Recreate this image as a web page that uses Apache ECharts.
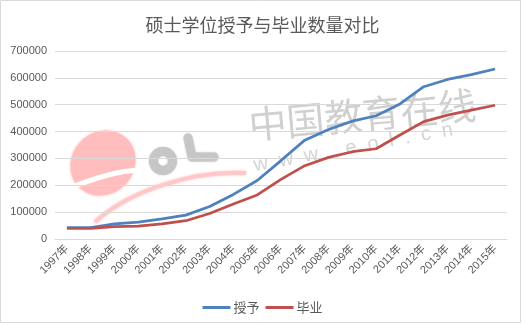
<!DOCTYPE html>
<html>
<head>
<meta charset="utf-8">
<script src="https://cdn.jsdelivr.net/npm/echarts@6/dist/echarts.min.js"></script>
<style>
  html, body { margin: 0; padding: 0; background: #fff; }
  #chart { width: 525px; height: 325px; }
</style>
</head>
<body>
<div id="chart"></div>
<script>
// 年份
const years = ['1997年','1998年','1999年','2000年','2001年','2002年','2003年','2004年','2005年','2006年',
               '2007年','2008年','2009年','2010年','2011年','2012年','2013年','2014年','2015年'];
// 硕士学位授予人数
const awarded = [42000, 42000, 56000, 63000, 75000, 89000, 121000, 166000, 218000, 292000,
                 368000, 408000, 439000, 459000, 503000, 567000, 594000, 612000, 633000];
// 硕士毕业人数
const graduated = [40000, 40000, 46000, 48000, 56000, 68000, 95000, 130000, 164000, 222000,
                   273000, 304000, 325000, 336000, 387000, 437000, 461000, 480000, 498000];
const seriesNames = ['授予', '毕业'];

const labelFont = '"Liberation Sans", "Noto Sans CJK SC", sans-serif';
const cjkFont = '"Noto Sans CJK SC", sans-serif';

const chart = echarts.init(document.getElementById('chart'), null, { renderer: 'canvas' });

chart.setOption({
  backgroundColor: '#ffffff',
  animation: false,
  title: {
    text: '硕士学位授予与毕业数量对比',
    left: 'center',
    top: 11,
    textStyle: { fontFamily: cjkFont, fontSize: 18, fontWeight: 'normal', color: '#595959' }
  },
  grid: { left: 55, right: 18, top: 51, bottom: 86, containLabel: false },
  legend: {
    data: seriesNames,
    left: 'center',
    top: 296,
    icon: 'rect',
    itemWidth: 28,
    itemHeight: 3,
    itemGap: 6,
    textStyle: { fontFamily: cjkFont, fontSize: 13, color: '#595959', padding: [0, 0, 0, -2] }
  },
  xAxis: {
    type: 'category',
    data: years,
    boundaryGap: true,
    axisLine: { lineStyle: { color: '#d9d9d9', width: 1 } },
    axisTick: { show: false },
    axisLabel: {
      rotate: 45,
      interval: 0,
      margin: 8,
      fontFamily: labelFont,
      fontSize: 11,
      color: '#595959'
    }
  },
  yAxis: {
    type: 'value',
    min: 0,
    max: 700000,
    interval: 100000,
    axisLine: { show: false },
    axisTick: { show: false },
    splitLine: { lineStyle: { color: '#d9d9d9', width: 1 } },
    axisLabel: {
      fontFamily: labelFont, fontSize: 11, color: '#595959', margin: 8,
      formatter: v => String(v)
    }
  },
  graphic: [
    // outer frame
    { type: 'rect', z: -10, shape: { x: 0.5, y: 0.5, width: 520, height: 322 },
      style: { fill: 'none', stroke: '#d9d9d9', lineWidth: 1 } },
    // site watermark: pink swirl
    { type: 'ellipse', z: -5, rotation: 0.8, x: 103, y: 163,
      shape: { cx: 0, cy: 0, rx: 34, ry: 31 },
      style: { fill: '#ffbdbd', shadowBlur: 3, shadowColor: '#ffbdbd' } },
    { type: 'bezierCurve', z: -4,
      shape: { x1: 64, y1: 190, x2: 142, y2: 170, cpx1: 90, cpy1: 180, cpx2: 118, cpy2: 170 },
      style: { stroke: '#ffffff', lineWidth: 5, fill: 'none' } },
    { type: 'bezierCurve', z: -4,
      shape: { x1: 95, y1: 222, x2: 246, y2: 173, cpx1: 130, cpy1: 190, cpx2: 195, cpy2: 170 },
      style: { stroke: '#ffc8c8', lineWidth: 4, fill: 'none', shadowBlur: 3, shadowColor: '#ffc8c8' } },
    // gray "oL"
    { type: 'circle', z: -4, shape: { cx: 163, cy: 161, r: 9.5 },
      style: { fill: 'none', stroke: '#c6c6c6', lineWidth: 9, shadowBlur: 2, shadowColor: '#c6c6c6' } },
    { type: 'polyline', z: -4, shape: { points: [[188, 138], [192, 157], [214, 157]] },
      style: { stroke: '#c6c6c6', lineWidth: 9, fill: 'none', lineCap: 'round', lineJoin: 'round',
               shadowBlur: 2, shadowColor: '#c6c6c6' } },
    // gray site name
    { type: 'text', z: -4, x: 247, y: 106, rotation: 0.09,
      style: { text: '中国教育在线', fontFamily: cjkFont, fontSize: 38, fill: '#d0d0d0',
               textVerticalAlign: 'top', shadowBlur: 3, shadowColor: '#d0d0d0' } },
    { type: 'text', z: -4, x: 252, y: 156, rotation: 0.18,
      style: { text: 'w  w  w  .  e  o  l  .  c  n', fontFamily: labelFont, fontSize: 20, fill: '#d4d4d4',
               textVerticalAlign: 'top', shadowBlur: 2, shadowColor: '#d4d4d4' } }
  ],
  series: [
    {
      name: seriesNames[0],
      type: 'line',
      data: awarded,
      z: 5,
      symbol: 'none',
      color: '#4F81BD',
      lineStyle: { width: 2.75, color: '#4F81BD' }
    },
    {
      name: seriesNames[1],
      type: 'line',
      data: graduated,
      z: 5,
      symbol: 'none',
      color: '#C0504D',
      lineStyle: { width: 2.75, color: '#C0504D' }
    }
  ]
});
</script>
</body>
</html>
